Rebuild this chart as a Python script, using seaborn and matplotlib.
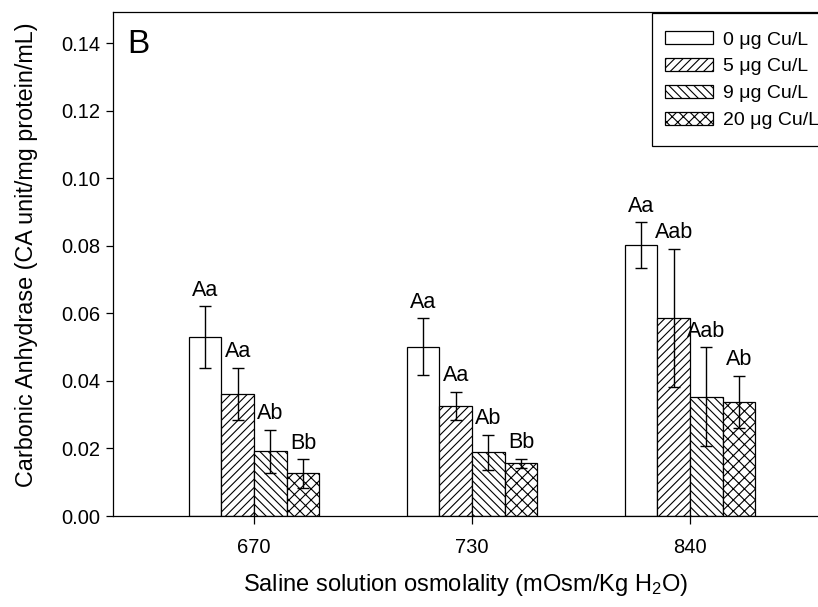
import matplotlib
matplotlib.use("Agg")
import matplotlib.pyplot as plt
from matplotlib.patches import Rectangle
from matplotlib.ticker import FormatStrFormatter
import numpy as np
import pandas as pd
import seaborn as sns

# Osmolality groups on the x axis
osmolality = ["670", "730", "840"]

# Copper exposure levels (hue)
copper = ["0 \u03bcg Cu/L", "5 \u03bcg Cu/L", "9 \u03bcg Cu/L", "20 \u03bcg Cu/L"]

# Mean carbonic anhydrase activity per copper level, one value per osmolality
ca_0 = [0.0529, 0.0501, 0.0802]
ca_5 = [0.0361, 0.0326, 0.0587]
ca_9 = [0.0191, 0.0188, 0.0353]
ca_20 = [0.0126, 0.0156, 0.0338]

# Standard errors
se_0 = [0.0092, 0.0084, 0.0068]
se_5 = [0.0078, 0.0041, 0.0204]
se_9 = [0.0065, 0.0052, 0.0147]
se_20 = [0.0042, 0.0014, 0.0077]

# Statistical group letters
let_0 = ["Aa", "Aa", "Aa"]
let_5 = ["Aa", "Aa", "Aab"]
let_9 = ["Ab", "Ab", "Aab"]
let_20 = ["Bb", "Bb", "Ab"]

means = [ca_0, ca_5, ca_9, ca_20]
errors = [se_0, se_5, se_9, se_20]
letters = [let_0, let_5, let_9, let_20]
hatches = ["", "////", "\\\\\\\\", "xxx"]

df = pd.DataFrame(
    [(o, c, means[i][j]) for i, c in enumerate(copper) for j, o in enumerate(osmolality)],
    columns=["osmolality", "copper", "activity"],
)

sns.set_style("ticks")
plt.rcParams["font.family"] = ["Liberation Sans", "DejaVu Sans"]
plt.rcParams["mathtext.fontset"] = "custom"
plt.rcParams["mathtext.rm"] = "Liberation Sans"
plt.rcParams["mathtext.it"] = "Liberation Sans:italic"
plt.rcParams["hatch.linewidth"] = 0.8
plt.rcParams["hatch.color"] = "black"
for key in ["text.color", "axes.labelcolor", "xtick.color", "ytick.color",
            "xtick.labelcolor", "ytick.labelcolor"]:
    plt.rcParams[key] = "black"

fig = plt.figure(figsize=(8.18, 6.07), dpi=100)
ax = fig.add_axes([113 / 818, 1 - 516 / 607, 705 / 818, 504 / 607])

sns.barplot(
    data=df, x="osmolality", y="activity", hue="copper",
    order=osmolality, hue_order=copper,
    palette={c: "white" for c in copper},
    width=0.6, gap=0, errorbar=None, legend=False,
    edgecolor="black", linewidth=0.9, saturation=1, ax=ax,
)

bar_sets = list(ax.containers)
for i, cont in enumerate(bar_sets):
    xs = []
    for p in cont.patches:
        p.set_hatch(hatches[i])
        p.set_edgecolor("black")
        xs.append(p.get_x() + p.get_width() / 2)
    ax.errorbar(xs, means[i], yerr=errors[i], fmt="none", ecolor="black",
                elinewidth=1.0, capsize=4.3, capthick=1.0, zorder=4)
    for x, m, e, t in zip(xs, means[i], errors[i], letters[i]):
        ax.annotate(t, (x, m + e), xytext=(0, 4), textcoords="offset points",
                    ha="center", va="bottom", fontsize=15.5)

ax.set_xlim(-0.647, 2.587)
ax.set_ylim(0, 0.1492)
ax.set_yticks(np.arange(0, 0.141, 0.02))
ax.yaxis.set_major_formatter(FormatStrFormatter("%.2f"))

ax.tick_params(axis="both", labelsize=14.5, width=0.9, color="black", direction="out")
ax.tick_params(axis="x", length=6, pad=10)
ax.tick_params(axis="y", length=5, pad=4)

ax.set_xlabel("Saline solution osmolality (mOsm/Kg H$_\\mathrm{2}$O)", fontsize=17, labelpad=11)
ax.set_ylabel("Carbonic Anhydrase (CA unit/mg protein/mL)", fontsize=16.8)
ax.yaxis.set_label_coords(-0.107, 0.518)

for side in ["left", "bottom", "top"]:
    ax.spines[side].set_visible(True)
    ax.spines[side].set_color("black")
    ax.spines[side].set_linewidth(0.9)
ax.spines["right"].set_visible(False)

# legend box, drawn as its own rectangle behind the legend entries
ax.add_patch(Rectangle((652 / 818, 1 - 146 / 607), 0.3, 133 / 607,
                       transform=fig.transFigure, facecolor="white",
                       edgecolor="black", linewidth=0.9, zorder=4.5,
                       clip_on=False))
leg = ax.legend(
    bar_sets, copper, loc="upper left",
    bbox_to_anchor=(647 / 818, 1 - 13 / 607), bbox_transform=fig.transFigure,
    fontsize=14, frameon=False, borderaxespad=0, borderpad=0.95,
    handlelength=2.45, handleheight=0.62, handletextpad=0.5, labelspacing=0.5,
)
leg.set_zorder(5)

fig.text(127 / 818, 1 - 53 / 607, "B", fontsize=24, va="baseline", ha="left")

fig.savefig("out.png", dpi=100)
